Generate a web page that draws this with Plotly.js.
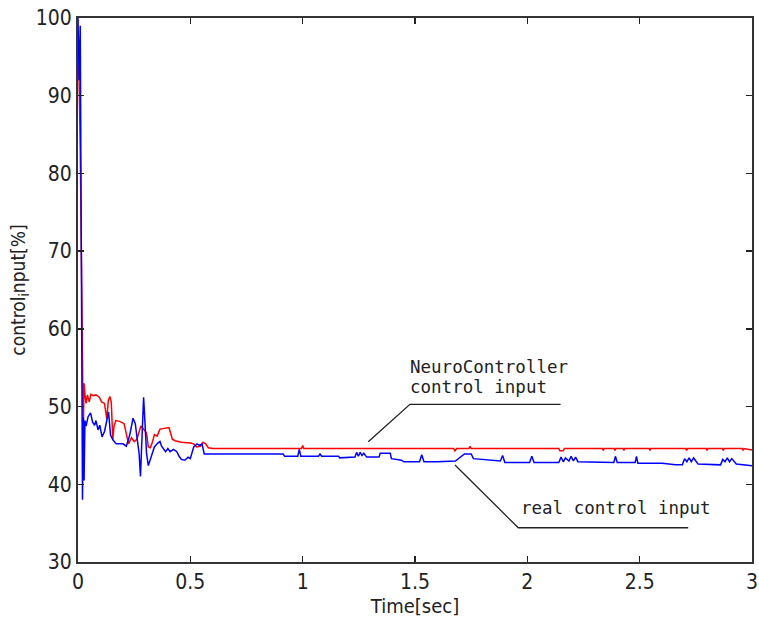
<!DOCTYPE html>
<html>
<head>
<meta charset="utf-8">
<script src="https://cdn.plot.ly/plotly-3.0.1.min.js"></script>
<style>
html, body { margin: 0; padding: 0; background: #ffffff; }
#chart { width: 759px; height: 623px; }
</style>
</head>
<body>
<div id="chart"></div>
<script>
// NeuroController control input (red)
var neuroTime = [
  0, 0.005, 0.01, 0.014, 0.019,
  0.023, 0.027, 0.031, 0.036, 0.042,
  0.05, 0.058, 0.068, 0.08, 0.095,
  0.105, 0.118, 0.128, 0.135, 0.142,
  0.148, 0.155, 0.16, 0.168, 0.185,
  0.205, 0.215, 0.225, 0.238, 0.25,
  0.262, 0.28, 0.295, 0.305, 0.313,
  0.322, 0.33, 0.34, 0.352, 0.365,
  0.405, 0.42, 0.432, 0.46, 0.5,
  0.515, 0.528, 0.545, 0.557, 0.568,
  0.58, 0.6, 0.995, 1.0, 1.005,
  1.672, 1.678, 1.685, 1.74, 1.745,
  1.75, 2.14, 2.145, 2.16, 2.165,
  2.334, 2.338, 2.342, 2.386, 2.39,
  2.394, 2.426, 2.43, 2.434, 2.542,
  2.546, 2.55, 2.705, 2.709, 2.713,
  2.796, 2.8, 2.804, 2.868, 2.872,
  2.876, 2.956, 2.96, 2.964, 2.99,
  3.0
];
var neuroInput = [
  94, 92, 83, 75, 59.3,
  46, 53, 51.6, 50.4, 51.5,
  50.6, 51.6, 51.4, 51.5, 51.2,
  50.6, 50.4, 48.4, 50.8, 51.3,
  50.6, 45.8, 47.4, 48.2, 48.1,
  47.8, 46.5, 45.2, 46.0, 45.5,
  45.8, 47.5, 47.0, 46.6, 44.8,
  44.7, 45.3, 46.4, 46.2, 47.1,
  47.3, 45.8, 45.6, 45.4, 45.3,
  45.2, 44.8, 44.9, 45.4, 45.2,
  44.7, 44.6, 44.6, 45.0, 44.6,
  44.6, 44.3, 44.6, 44.6, 44.9,
  44.6, 44.6, 44.3, 44.3, 44.6,
  44.6, 44.35, 44.6, 44.6, 44.35,
  44.6, 44.6, 44.35, 44.6, 44.6,
  44.35, 44.6, 44.6, 44.35, 44.6,
  44.6, 44.35, 44.6, 44.6, 44.35,
  44.6, 44.6, 44.35, 44.6, 44.4,
  44.4
];

// real control input (blue)
var realTime = [
  0, 0.005, 0.01, 0.014, 0.02,
  0.024, 0.027, 0.031, 0.036, 0.045,
  0.056, 0.065, 0.074, 0.08, 0.089,
  0.097, 0.107, 0.118, 0.13, 0.136,
  0.145, 0.156, 0.17, 0.2, 0.215,
  0.23, 0.245, 0.255, 0.265, 0.272,
  0.278, 0.285, 0.292, 0.298, 0.305,
  0.313, 0.325, 0.34, 0.355, 0.365,
  0.372, 0.38, 0.39, 0.4, 0.41,
  0.425, 0.44, 0.45, 0.46, 0.475,
  0.49, 0.5, 0.515, 0.53, 0.54,
  0.552, 0.562, 0.913, 0.92, 0.978,
  0.985, 0.992, 1.07, 1.077, 1.085,
  1.16, 1.165, 1.233, 1.24, 1.248,
  1.256, 1.264, 1.272, 1.285, 1.34,
  1.345, 1.39, 1.395, 1.44, 1.45,
  1.52, 1.53, 1.54, 1.6, 1.68,
  1.72, 1.75, 1.76, 1.8, 1.88,
  1.89, 1.9, 2.01, 2.02, 2.03,
  2.14, 2.15, 2.16, 2.17, 2.185,
  2.195, 2.205, 2.215, 2.225, 2.385,
  2.392, 2.4, 2.48, 2.486, 2.492,
  2.6, 2.66, 2.69, 2.7, 2.71,
  2.72, 2.73, 2.74, 2.75, 2.76,
  2.86, 2.87, 2.88, 2.89, 2.9,
  2.91, 2.93, 3.0
];
var realInput = [
  100, 92, 99, 80, 38,
  48.6, 40.5, 48.2, 47.5, 48.7,
  49.2, 48.0, 47.6, 48.2, 47.0,
  47.6, 46.1, 46.8, 48.4, 49.3,
  46.3, 45.7, 45.2, 45.2, 44.9,
  46.3, 48.5, 47.8, 45.5, 44.0,
  41.0, 45.5, 51.2, 48.0, 44.0,
  42.4, 43.5, 44.8, 45.3, 45.5,
  44.9, 44.6, 44.2, 44.6, 44.2,
  44.5, 44.2, 43.6, 43.2, 43.1,
  43.5, 43.3, 44.8, 45.2, 45.0,
  45.2, 43.9, 43.9, 43.6, 43.6,
  44.5, 43.6, 43.6, 43.9, 43.6,
  43.6, 43.4, 43.5, 44.1, 43.6,
  44.1, 43.7, 44.0, 43.5, 43.5,
  44.0, 44.0, 43.3, 43.1, 42.9,
  42.9, 43.8, 42.9, 42.9, 43.0,
  43.9, 43.9, 43.3, 43.2, 43.0,
  43.7, 42.8, 42.8, 43.6, 42.8,
  42.8, 43.5, 42.9, 43.4, 43.0,
  43.6, 43.0, 43.5, 42.9, 42.8,
  43.6, 42.8, 42.8, 43.6, 42.7,
  42.7, 42.5, 42.5, 43.3, 42.9,
  43.4, 42.9, 43.4, 43.0, 42.6,
  42.5, 43.2, 42.9, 43.4, 42.9,
  43.3, 42.6, 42.4
];

var xTicks = [0, 0.5, 1, 1.5, 2, 2.5, 3];
var xTickText = ['0', '0.5', '1', '1.5', '2', '2.5', '3'];
var yTicks = [30, 40, 50, 60, 70, 80, 90, 100];
var yTickText = ['30', '40', '50', '60', '70', '80', '90', '100'];

var narrowFont = '"Liberation Sans Narrow", "DejaVu Sans Condensed", "Arial Narrow", "Liberation Sans", sans-serif';
var monoFont = '"DejaVu Sans Mono", "Liberation Mono", monospace';

var traces = [
  {
    x: neuroTime, y: neuroInput, type: 'scatter', mode: 'lines',
    line: { color: '#ff0000', width: 1.5 }, name: 'NeuroController control input',
    hoverinfo: 'skip'
  },
  {
    x: realTime, y: realInput, type: 'scatter', mode: 'lines',
    line: { color: '#0000ff', width: 1.5 }, name: 'real control input',
    hoverinfo: 'skip'
  }
];

var axisCommon = {
  showgrid: false, zeroline: false,
  showline: true, linecolor: '#333333', linewidth: 2, mirror: 'ticks',
  ticks: 'inside', ticklen: 6, tickwidth: 1.5, tickcolor: '#222222',
  tickfont: { family: narrowFont, size: 21, color: '#222222' },
  tickmode: 'array'
};

var layout = {
  width: 759, height: 623,
  margin: { l: 78, r: 7, t: 18, b: 61 },
  paper_bgcolor: '#ffffff', plot_bgcolor: '#ffffff',
  showlegend: false,
  xaxis: Object.assign({}, axisCommon, {
    range: [0, 3], tickvals: xTicks, ticktext: xTickText,
    title: { text: 'Time[sec]', font: { family: narrowFont, size: 20, color: '#222222' }, standoff: 4 }
  }),
  yaxis: Object.assign({}, axisCommon, {
    range: [30, 100], tickvals: yTicks, ticktext: yTickText,
    title: { text: 'control<sub>i</sub>nput[%]', font: { family: narrowFont, size: 19, color: '#222222' }, standoff: 5 }
  }),
  shapes: [
    {
      type: 'path', xref: 'x', yref: 'y',
      path: 'M 1.292 45.48 L 1.4775 50.29 L 2.148 50.29',
      line: { color: '#222222', width: 1.3 }
    },
    {
      type: 'path', xref: 'x', yref: 'y',
      path: 'M 1.678 42.48 L 1.9595 34.41 L 2.716 34.41',
      line: { color: '#222222', width: 1.3 }
    }
  ],
  annotations: [
    {
      x: 1.469, y: 55.1, xref: 'x', yref: 'y', xanchor: 'left', yanchor: 'middle',
      text: 'NeuroController', showarrow: false,
      font: { family: monoFont, size: 17.5, color: '#222222' }
    },
    {
      x: 1.469, y: 52.5, xref: 'x', yref: 'y', xanchor: 'left', yanchor: 'middle',
      text: 'control input', showarrow: false,
      font: { family: monoFont, size: 17.5, color: '#222222' }
    },
    {
      x: 1.962, y: 37.0, xref: 'x', yref: 'y', xanchor: 'left', yanchor: 'middle',
      text: 'real control input', showarrow: false,
      font: { family: monoFont, size: 17.5, color: '#222222' }
    }
  ]
};

Plotly.newPlot('chart', traces, layout, { staticPlot: true, displayModeBar: false });
</script>
</body>
</html>
